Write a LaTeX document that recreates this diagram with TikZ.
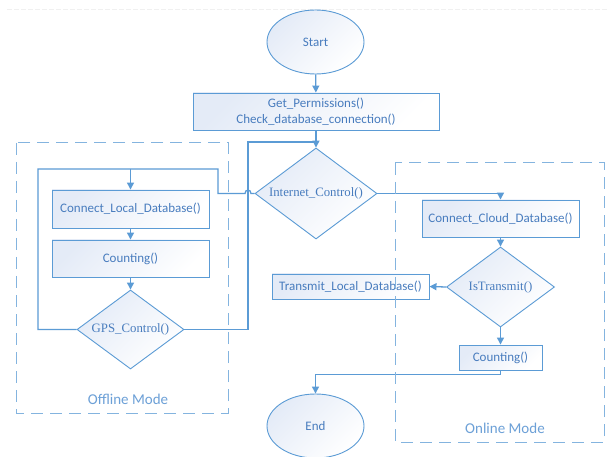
\documentclass[tikz,border=0pt]{standalone}
\usepackage{fontspec}
\setmainfont{Carlito}
\newfontfamily\serifd{Liberation Serif}
\usetikzlibrary{arrows.meta,shapes.geometric}
\definecolor{lnblue}{RGB}{91,155,213}
\definecolor{txblue}{RGB}{72,124,190}
\definecolor{lbblue}{RGB}{108,160,215}
\definecolor{fillblue}{RGB}{228,235,247}
\begin{document}
\begin{tikzpicture}[x=1pt,y=-1pt,
  conn/.style={draw=lnblue,line width=1.3pt},
  arr/.style={conn,-{Triangle[length=7pt,width=7pt]}},
  shadefill/.style={top color=fillblue,bottom color=white,shading angle=45},
  procbox/.style={rectangle,draw=lnblue,line width=0.9pt,shadefill,text=txblue,
    font=\fontsize{13}{15.5}\selectfont,align=center,inner sep=0pt},
  decision/.style={diamond,draw=lnblue,line width=0.9pt,shadefill,text=txblue,
    font=\serifd\fontsize{12.8}{15}\selectfont,inner sep=0pt,aspect=1.3},
  terminal/.style={ellipse,draw=lnblue,line width=0.9pt,shadefill,text=txblue,
    font=\fontsize{13}{15.5}\selectfont,minimum width=97pt,minimum height=64pt,inner sep=0pt},
  modebox/.style={draw=lnblue!75,line width=1pt,dash pattern=on 12pt off 7pt},
  modelabel/.style={text=lbblue,font=\fontsize{15}{18}\selectfont,inner sep=0pt}]
\useasboundingbox (0,0) rectangle (608,457);
\fill[white] (0,0) rectangle (608,457);
\draw[gray!12,line width=1pt,dash pattern=on 5pt off 2pt] (7,10) -- (608,10);

% nodes
\node[terminal] (start) at (315.5,42) {Start};
\node[procbox,minimum width=246pt,minimum height=37pt] (perm) at (316,111.5) {Get\_Permissions()\\Check\_database\_connection()};
\node[decision,minimum width=122pt,minimum height=91pt] (inet) at (316,193.5) {Internet\_Control()};
\node[procbox,minimum width=157pt,minimum height=38pt] (cl) at (130.5,209) {Connect\_Local\_Database()};
\node[procbox,minimum width=157pt,minimum height=37pt] (cnt1) at (130.5,258.5) {Counting()};
\node[decision,minimum width=107pt,minimum height=79pt] (gps) at (130.5,329.5) {GPS\_Control()};
\node[procbox,minimum width=157pt,minimum height=37pt] (cc) at (500.5,218.5) {Connect\_Cloud\_Database()};
\node[decision,minimum width=108pt,minimum height=80pt] (istr) at (500.5,287) {IsTransmit()};
\node[procbox,minimum width=157pt,minimum height=25pt] (tr) at (350.5,286.5) {Transmit\_Local\_Database()};
\node[procbox,minimum width=83pt,minimum height=25pt] (cnt2) at (500.5,357.5) {Counting()};
\node[terminal] (end) at (315.5,426) {End};

\coordinate (j1) at (316,142);
\coordinate (t1) at (130.5,169);
\coordinate (jr) at (251,193.5);
\coordinate (jl) at (245,193.5);

% connectors
\draw[arr] (start) -- (perm);
\draw[arr] (perm) -- (inet.north);
\draw[conn] (gps.east) -- (248,329.5) -- (248,142) -- (j1);
\draw[conn] (inet.west) -- (jr) .. controls (251,189) and (245,189) .. (jl)
  -- (218,193.5) -- (218,169) -- (38,169) -- (38,329.5) -- (gps.west);
\draw[arr] (t1) -- (cl.north);
\draw[arr] (cl) -- (cnt1);
\draw[arr] (cnt1) -- (gps.north);
\draw[arr] (inet.east) -| (cc.north);
\draw[arr] (cc) -- (istr.north);
\draw[arr] (istr.west) -- (tr.east);
\draw[arr] (istr.south) -- (cnt2.north);
\draw[arr] (cnt2.south) -- ++(0,4) -| (end.north);

% mode boxes
\draw[modebox] (16,143) rectangle (228,413);
\node[modelabel] (offl) at (128,399.5) {Offline Mode};
\draw[modebox] (395,163) rectangle (604,442);
\node[modelabel] (onl) at (505,428) {Online Mode};
\end{tikzpicture}
\end{document}
